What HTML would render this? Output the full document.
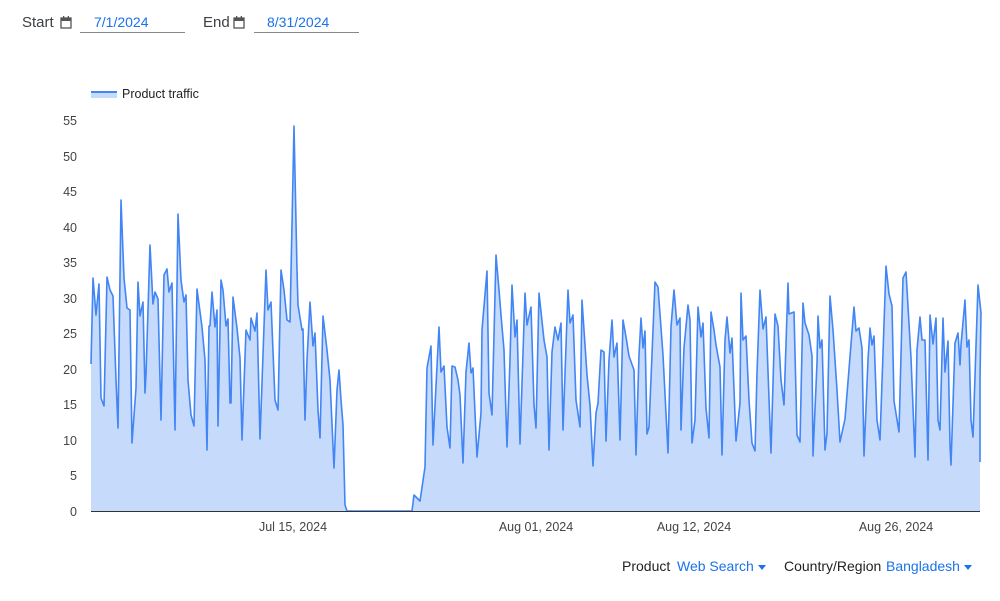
<!DOCTYPE html>
<html><head><meta charset="utf-8"><style>
body{margin:0;width:1000px;height:601px;background:#fff;font-family:"Liberation Sans",Arial,sans-serif;overflow:hidden;position:relative}
.t{position:absolute;font-size:14px;color:#333}
.b{color:#1a73e8}
</style></head><body>
<div class="t" style="left:22px;top:14px;font-size:15px;color:#3c4043">Start</div>
<svg style="position:absolute;left:60px;top:16px" width="12" height="13" viewBox="0 0 12 13"><rect x="1" y="2" width="10" height="10" fill="none" stroke="#555" stroke-width="1.3"/><rect x="1" y="2" width="10" height="3" fill="#555"/><rect x="3" y="0" width="1.3" height="3" fill="#555"/><rect x="7.7" y="0" width="1.3" height="3" fill="#555"/></svg>
<div class="t b" style="left:94px;top:14px;font-size:14px">7/1/2024</div>
<div style="position:absolute;left:80px;top:32px;width:105px;height:1px;background:#888"></div>
<div class="t" style="left:203px;top:14px;font-size:15px;color:#3c4043">End</div>
<svg style="position:absolute;left:233px;top:16px" width="12" height="13" viewBox="0 0 12 13"><rect x="1" y="2" width="10" height="10" fill="none" stroke="#555" stroke-width="1.3"/><rect x="1" y="2" width="10" height="3" fill="#555"/><rect x="3" y="0" width="1.3" height="3" fill="#555"/><rect x="7.7" y="0" width="1.3" height="3" fill="#555"/></svg>
<div class="t b" style="left:267px;top:14px;font-size:14px">8/31/2024</div>
<div style="position:absolute;left:254px;top:32px;width:105px;height:1px;background:#888"></div>

<svg style="position:absolute;left:0;top:0" width="1000" height="601" font-family="Liberation Sans, Arial, sans-serif">
<rect x="91" y="91" width="26" height="7" fill="#c6dafc"/><line x1="91" y1="92" x2="117" y2="92" stroke="#4285f4" stroke-width="2"/>
<text x="122" y="98" font-size="12.5" fill="#222">Product traffic</text>
<g font-size="12.5" fill="#444" text-anchor="end">
<text x="77" y="516">0</text><text x="77" y="480">5</text><text x="77" y="445">10</text><text x="77" y="409">15</text><text x="77" y="374">20</text><text x="77" y="338">25</text><text x="77" y="303">30</text><text x="77" y="267">35</text><text x="77" y="232">40</text><text x="77" y="196">45</text><text x="77" y="161">50</text><text x="77" y="125">55</text>
</g>
<g font-size="12.5" fill="#444" text-anchor="middle">
<text x="293" y="531">Jul 15, 2024</text><text x="536" y="531">Aug 01, 2024</text><text x="694" y="531">Aug 12, 2024</text><text x="896" y="531">Aug 26, 2024</text>
</g>
<polygon id="area" fill="#c6dafc" points=""/>
<polyline id="ln" fill="none" stroke="#4285f4" stroke-width="1.6" stroke-linejoin="round" points=""/>
<line x1="91" y1="511.5" x2="980" y2="511.5" stroke="#333" stroke-width="1"/>
</svg>
<script>
var p="91,364 93,278 96,315 99,284 101,398 104,406 107,277 110,290 113,296 116,380 118,428 121,200 124,278 127,308 130,310 132,443 136,388 138,282 140,316 143,302 145,393 146,374 150,245 153,304 155,292 158,299 161,420 164,275 167,269 169,292 172,283 175,430 178,214 181,280 184,302 186,295 188,380 191,415 194,426 197,289 202,327 205,360 207,450 209,326 210,326 212,292 215,327 217,310 218,426 221,280 223,290 226,326 228,319 230,403 231,403 233,297 237,328 240,358 242,440 246,330 250,340 251,318 255,331 257,313 260,439 266,270 268,310 271,302 275,400 278,410 281,270 284,290 287,320 290,322 294,126 297,270 298,305 302,330 303,329 305,420 307,360 310,302 313,346 315,333 318,410 320,438 323,316 327,350 330,380 334,468 337,390 339,370 341,400 343,425 345,505 347,511 412,511 414,495 420,501 425,467 427,368 431,346 433,445 439,327 441,372 444,366 447,427 450,448 452,366 455,367 458,380 460,395 463,463 466,372 469,343 471,373 473,368 477,457 481,413 482,330 487,271 489,393 492,415 496,255 499,290 501,315 504,350 507,447 510,360 512,285 515,337 517,320 520,444 525,293 527,325 531,307 534,405 536,428 539,293 544,340 547,357 549,450 552,352 555,327 558,340 561,323 563,430 568,290 570,323 573,315 576,400 580,427 582,300 587,375 590,405 593,466 596,413 598,403 601,350 604,352 606,441 609,360 612,320 614,357 617,343 620,440 623,320 626,337 629,356 634,370 636,455 639,355 641,318 643,348 645,331 647,434 649,427 655,282 658,287 663,355 668,453 671,327 674,290 677,325 680,318 681,430 684,348 688,305 690,320 692,443 695,420 698,307 701,337 703,323 706,408 709,438 711,312 714,330 716,345 720,367 722,455 725,340 727,317 730,353 732,338 736,441 740,403 741,293 743,340 746,336 749,400 752,443 755,451 757,373 760,290 763,329 766,317 771,453 775,314 778,326 781,380 784,405 788,283 789,314 794,312 797,435 800,442 803,303 805,323 809,335 812,356 813,456 817,363 818,316 820,348 822,340 825,450 827,433 830,296 833,330 837,390 840,442 845,419 854,307 856,331 859,328 862,348 864,456 868,360 870,328 872,345 874,336 877,420 880,440 886,266 889,294 892,306 894,401 899,432 903,278 906,272 911,358 915,457 917,350 920,317 922,340 925,340 928,460 930,315 933,344 936,318 938,420 940,430 943,318 945,372 948,341 950,445 951,465 955,343 958,333 960,365 961,345 965,300 967,347 969,340 971,420 973,437 978,285 981,313 980,380 980,462";
document.getElementById('ln').setAttribute('points',p);
document.getElementById('area').setAttribute('points',p+" 980,511 91,511");
</script>
<div class="t" style="left:622px;top:558px;font-size:14px;color:#222">Product</div>
<div class="t b" style="left:677px;top:558px;font-size:14px">Web Search</div>
<div style="position:absolute;left:758px;top:565px;border-left:4px solid transparent;border-right:4px solid transparent;border-top:5px solid #1a73e8"></div>
<div class="t" style="left:784px;top:558px;font-size:14px;color:#222">Country/Region</div>
<div class="t b" style="left:886px;top:558px;font-size:14px">Bangladesh</div>
<div style="position:absolute;left:964px;top:565px;border-left:4px solid transparent;border-right:4px solid transparent;border-top:5px solid #1a73e8"></div>
</body></html>
